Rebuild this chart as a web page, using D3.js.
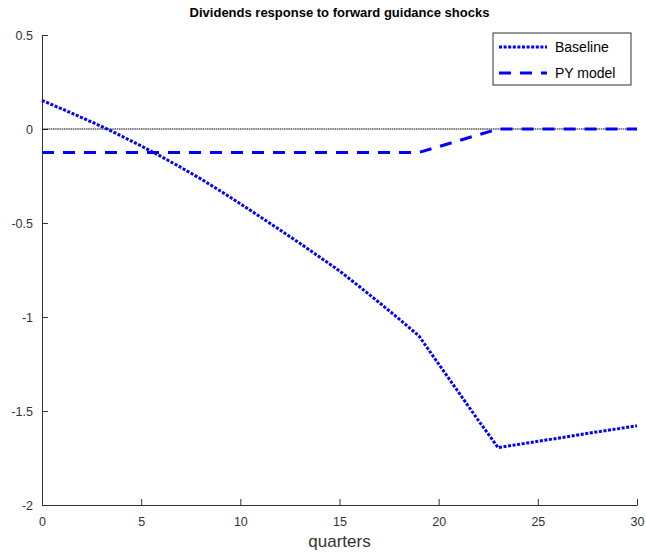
<!DOCTYPE html>
<html>
<head>
<meta charset="utf-8">
<script src="https://cdn.jsdelivr.net/npm/d3@7"></script>
<style>
  body { margin: 0; background: #fff; }
  text { font-family: "Liberation Sans", Arial, sans-serif; }
</style>
</head>
<body>
<div id="chart-area"></div>
<script>
// quarters 0..30
const quarters = d3.range(0, 31);
const baseline = [0.152, 0.107, 0.061, 0.014, -0.037, -0.090, -0.146, -0.204, -0.265, -0.330,
  -0.398, -0.467, -0.537, -0.608, -0.681, -0.755, -0.838, -0.923, -1.010, -1.100,
  -1.250, -1.400, -1.550, -1.695, -1.678, -1.661, -1.645, -1.628, -1.611, -1.595, -1.578];
const pyModel = [-0.125, -0.125, -0.125, -0.125, -0.125, -0.125, -0.125, -0.125, -0.125, -0.125,
  -0.125, -0.125, -0.125, -0.125, -0.125, -0.125, -0.125, -0.125, -0.125, -0.125,
  -0.094, -0.0625, -0.031, 0, 0, 0, 0, 0, 0, 0, 0];
const xTicks = [0, 5, 10, 15, 20, 25, 30];
const yTicks = [-2, -1.5, -1, -0.5, 0, 0.5];
const seriesNames = ['Baseline', 'PY model'];

const width = 646;
const height = 557;
const margin = { left: 42, right: 9, top: 35, bottom: 52 };
const innerW = width - margin.left - margin.right;
const innerH = height - margin.top - margin.bottom;

const x = d3.scaleLinear().domain([0, 30]).range([0, innerW]);
const y = d3.scaleLinear().domain([-2, 0.5]).range([innerH, 0]);

const svg = d3.select('#chart-area').append('svg')
  .attr('width', width)
  .attr('height', height);

const g = svg.append('g')
  .attr('transform', `translate(${margin.left}, ${margin.top})`);

const axisColor = '#333';

const gx = g.append('g')
  .attr('transform', `translate(0, ${innerH})`)
  .call(d3.axisBottom(x).tickValues(xTicks).tickSizeInner(-6).tickSizeOuter(0).tickPadding(10));

// plain hyphen minus, as in the original
const gy = g.append('g')
  .call(d3.axisLeft(y).tickValues(yTicks).tickSizeInner(-6).tickSizeOuter(0).tickPadding(9)
    .tickFormat(d => String(d)));

[gx, gy].forEach(a => {
  a.select('.domain').attr('stroke', axisColor);
  a.selectAll('.tick line').attr('stroke', axisColor);
  a.selectAll('.tick text').attr('fill', '#333').attr('font-size', '12.5px');
});
gx.selectAll('.tick text').attr('dy', '0.9em');

// zero line
g.append('line')
  .attr('x1', x(0)).attr('x2', x(30))
  .attr('y1', y(0)).attr('y2', y(0))
  .attr('stroke', '#000')
  .attr('stroke-width', 1.2)
  .attr('stroke-dasharray', '1.5,0.7');

const line = d3.line()
  .x((d, i) => x(quarters[i]))
  .y(d => y(d));

const styles = [
  { dash: '3,1.6', width: 3 },
  { dash: '12,9', width: 3 }
];

[baseline, pyModel].forEach((s, i) => {
  g.append('path')
    .datum(s)
    .attr('d', line)
    .attr('fill', 'none')
    .attr('stroke', '#0000ff')
    .attr('stroke-width', styles[i].width)
    .attr('stroke-dasharray', styles[i].dash);
});

// title
svg.append('text')
  .text('Dividends response to forward guidance shocks')
  .attr('x', margin.left + innerW / 2)
  .attr('y', 17)
  .attr('text-anchor', 'middle')
  .attr('font-size', '13px')
  .attr('font-weight', 'bold')
  .attr('fill', '#000');

// x label
svg.append('text')
  .text('quarters')
  .attr('x', margin.left + innerW / 2)
  .attr('y', 547)
  .attr('text-anchor', 'middle')
  .attr('font-size', '17px')
  .attr('fill', '#333');

// legend
const legend = svg.append('g').attr('transform', 'translate(493, 33)');
legend.append('rect')
  .attr('width', 138)
  .attr('height', 52)
  .attr('fill', '#fff')
  .attr('stroke', '#333')
  .attr('stroke-width', 1);

seriesNames.forEach((name, i) => {
  const ly = 14 + i * 26;
  legend.append('line')
    .attr('x1', 6).attr('x2', 54)
    .attr('y1', ly).attr('y2', ly)
    .attr('stroke', '#0000ff')
    .attr('stroke-width', styles[i].width)
    .attr('stroke-dasharray', styles[i].dash);
  legend.append('text')
    .text(name)
    .attr('x', 62)
    .attr('y', ly + 5)
    .attr('font-size', '14px')
    .attr('fill', '#000');
});
</script>
</body>
</html>
